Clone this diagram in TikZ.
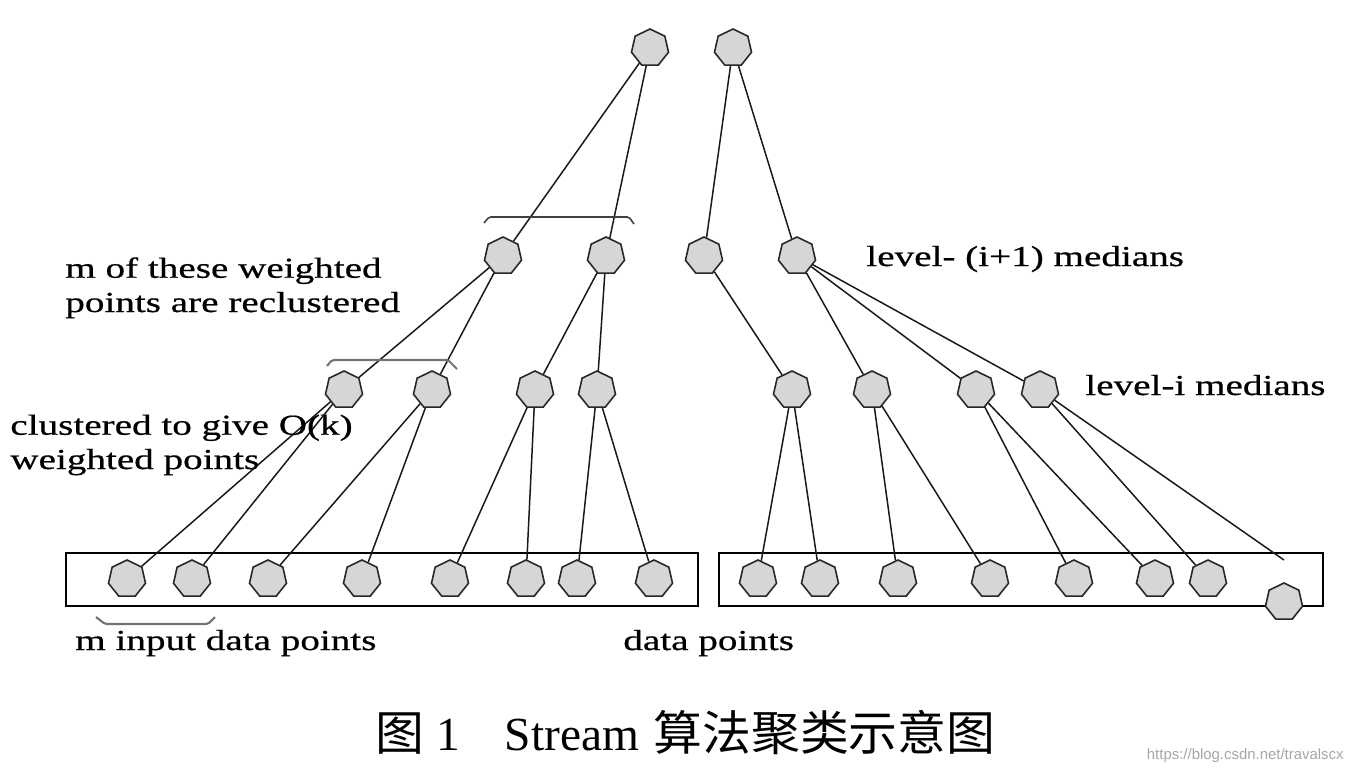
\documentclass[tikz,border=0pt]{standalone}
\usepackage{fontspec}
\setmainfont{Liberation Serif}
\newfontfamily\labelfont{Liberation Serif}[FakeStretch=1.35, FakeBold=0.6]
\newfontfamily\markfont{Liberation Sans}
\newfontfamily\cjk{Noto Sans CJK SC}[FakeStretch=1.03]
\usetikzlibrary{shapes.geometric}

\tikzset{
	median/.style={draw=black!85, fill=black!16, line width=0.9pt, regular polygon, regular polygon sides=7, minimum size=0.76cm, inner sep=0pt},
	link/.style={line width=0.85pt, black!90},
	brace/.style={line width=1.2pt, black!55, rounded corners=1pt},
	lbl/.style={anchor=base west, inner sep=0pt, align=left, font=\labelfont\fontsize{16.5}{19.5}\selectfont},
}
\newcommand{\dpoint}[3] % name, x in px, y in px
{
	\node[median] (#1) at (#2,#3) {};
}

\begin{document}
\begin{tikzpicture}[x=0.02cm, y=-0.02cm]
	% page: 1347 x 775 px, y grows downwards
	\useasboundingbox (0,0) rectangle (1347,775);
	
	% data point boxes
	\draw[line width=1.1pt] (66,553) rectangle (698,606);
	\draw[line width=1.1pt] (719,553) rectangle (1323,606);
	
	% top medians
	\dpoint{t1}{650}{48};
	\dpoint{t2}{733}{48};
	
	% level-(i+1) medians
	\dpoint{u1}{503}{256};
	\dpoint{u2}{606}{256};
	\dpoint{u3}{704}{256};
	\dpoint{u4}{797}{256};
	
	% level-i medians
	\dpoint{m1}{344}{390};
	\dpoint{m2}{432}{390};
	\dpoint{m3}{535}{390};
	\dpoint{m4}{597}{390};
	\dpoint{m5}{792}{390};
	\dpoint{m6}{872}{390};
	\dpoint{m7}{976}{390};
	\dpoint{m8}{1040}{390};
	
	% input data points
	\dpoint{p1}{127}{579};
	\dpoint{p2}{192}{579};
	\dpoint{p3}{268}{579};
	\dpoint{p4}{362}{579};
	\dpoint{p5}{450}{579};
	\dpoint{p6}{526}{579};
	\dpoint{p7}{577}{579};
	\dpoint{p8}{654}{579};
	
	\dpoint{q1}{758}{579};
	\dpoint{q2}{820}{579};
	\dpoint{q3}{898}{579};
	\dpoint{q4}{990}{579};
	\dpoint{q5}{1074}{579};
	\dpoint{q6}{1155}{579};
	\dpoint{q7}{1208}{579};
	\dpoint{q8}{1284}{602};
	\coordinate (q8end) at (1284,560);
	
	% links
	\draw[link] (t1) -- (u1);
	\draw[link] (t1) -- (u2);
	\draw[link] (t2) -- (u3);
	\draw[link] (t2) -- (u4);
	
	\draw[link] (u1) -- (m1);
	\draw[link] (u1) -- (m2);
	\draw[link] (u2) -- (m3);
	\draw[link] (u2) -- (m4);
	\draw[link] (u3) -- (m5);
	\draw[link] (u4) -- (m6);
	\draw[link] (u4) -- (m7);
	\draw[link] (u4) -- (m8);
	
	\draw[link] (m1) -- (p1);
	\draw[link] (m1) -- (p2);
	\draw[link] (m2) -- (p3);
	\draw[link] (m2) -- (p4);
	\draw[link] (m3) -- (p5);
	\draw[link] (m3) -- (p6);
	\draw[link] (m4) -- (p7);
	\draw[link] (m4) -- (p8);
	
	\draw[link] (m5) -- (q1);
	\draw[link] (m5) -- (q2);
	\draw[link] (m6) -- (q3);
	\draw[link] (m6) -- (q4);
	\draw[link] (m7) -- (q5);
	\draw[link] (m7) -- (q6);
	\draw[link] (m8) -- (q7);
	\draw[link] (m8) -- (q8end);
	
	% brackets
	\draw[brace, black!75, line width=0.9pt] (484,223) -- (489,217) -- (629,217) -- (634,224);
	\draw[brace] (327,366) -- (332,360) -- (448,360) -- (457,369);
	\draw[brace] (96,617) -- (105,624) -- (208,624) -- (215,617);
	
	% labels (base = last line)
	\node[lbl] (reclustered) at (65,312) {m of these weighted\\points are reclustered};
	\node[lbl] (clustered) at (10,469) {clustered to give O(k)\\weighted points};
	\node[lbl] (upper) at (866,266) {level- (i+1) medians};
	\node[lbl] (lower) at (1085,395) {level-i medians};
	\node[lbl] (input) at (75,650) {m input data points};
	\node[lbl] (data) at (623,650) {data points};
	
	% caption
	\node[anchor=base west, inner sep=0pt, font=\fontsize{27}{30}\selectfont] (caption) at (375,750)
		{{\cjk 图} 1\hspace{0.95em}Stream\hspace{0.3em}{\cjk 算法聚类示意图}};
	\node[anchor=base east, inner sep=0pt, text=black!35, font=\markfont\fontsize{8.5}{10}\selectfont] (mark) at (1344,759)
		{https://blog.csdn.net/travalscx};
\end{tikzpicture}
\end{document}
